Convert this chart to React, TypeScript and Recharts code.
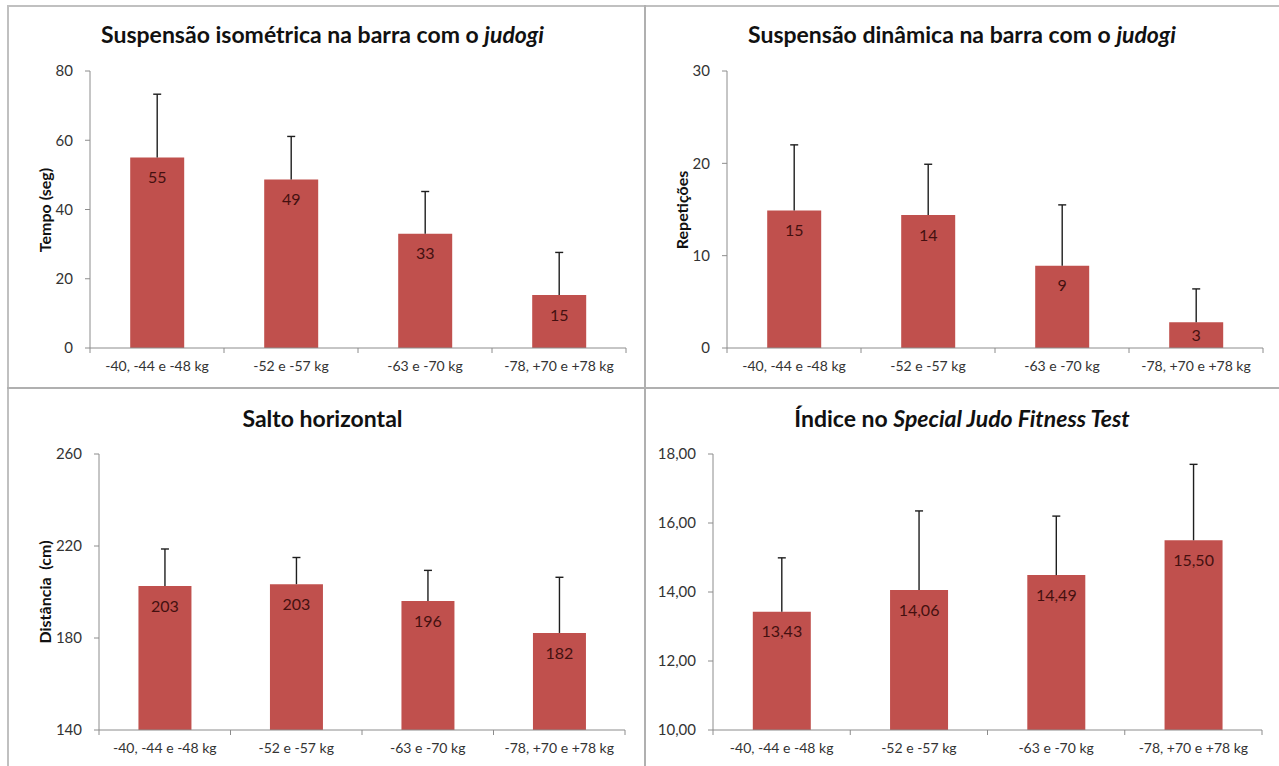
import React from "react";
import { BarChart, Bar, XAxis, YAxis, LabelList } from "recharts";

const CATS = ["-40, -44 e -48 kg", "-52 e -57 kg", "-63 e -70 kg", "-78, +70 e +78 kg"];

const ISO_MEAN = [55, 48.7, 33, 15.3];
const ISO_SD = [18.3, 12.4, 12.2, 12.3];
const ISO_TICKS = [0, 20, 40, 60, 80];

const DIN_MEAN = [14.9, 14.4, 8.9, 2.8];
const DIN_SD = [7.1, 5.5, 6.6, 3.6];
const DIN_TICKS = [0, 10, 20, 30];

const SALTO_MEAN = [202.6, 203.4, 196.1, 182.2];
const SALTO_SD = [16.1, 11.6, 13.3, 24.2];
const SALTO_TICKS = [140, 180, 220, 260];

const SJFT_MEAN = [13.43, 14.06, 14.49, 15.5];
const SJFT_SD = [1.56, 2.29, 1.71, 2.2];
const SJFT_TICKS = [10, 12, 14, 16, 18];

const BAR = "#c0504d";
const AXIS = "#8c8c8c";
const TXT = "#333";
const BORDER = "#c0c0c0";

const intFmt = (v: number) => Math.round(v).toString();
const decFmt = (v: number) => v.toFixed(2).replace(".", ",");

function ErrCap(props: any) {
  const { x, y, width, height } = props;
  const cx = x + width / 2;
  const top = Math.min(y, y + height);
  const bot = Math.max(y, y + height);
  return (
    <g>
      <line x1={cx} y1={top} x2={cx} y2={bot} stroke="#1e1e1e" strokeWidth={1.4} />
      <line x1={cx - 4} y1={top} x2={cx + 4} y2={top} stroke="#1e1e1e" strokeWidth={1.4} />
    </g>
  );
}

function CatTick(props: any) {
  const { x, y, payload, index } = props;
  const half = payload.offset ?? 67;
  return (
    <g>
      {index === 0 && <line x1={x - half} y1={y} x2={x - half} y2={y + 5} stroke={AXIS} />}
      <line x1={x + half} y1={y} x2={x + half} y2={y + 5} stroke={AXIS} />
      <text x={x} y={y + 23} textAnchor="middle" fontSize={14} fill={TXT}>
        {payload.value}
      </text>
    </g>
  );
}

// label sits ~20px under the bar top, or in the middle of a short bar
function ValueLabel(props: any, fmt: (v: number) => string) {
  const { x, y, width, height, value } = props;
  const h = Math.abs(height);
  const cy = y + Math.min(20, h / 2);
  return (
    <text x={x + width / 2} y={cy} dy="0.35em" textAnchor="middle" fontSize={16} fill="#441010">
      {fmt(Number(value))}
    </text>
  );
}

type PanelProps = {
  left: number;
  top: number;
  width: number;
  height: number;
  yWidth: number;
  mTop: number;
  mRight: number;
  mBottom: number;
  mean: number[];
  sd: number[];
  ticks: number[];
  fmt: (v: number) => string;
  gap: string;
  title: React.ReactNode;
  titleY: number;
  yLabel?: string;
  yLabelX?: number;
};

function Panel(p: PanelProps) {
  const data = CATS.map((c, i) => ({ cat: c, v: p.mean[i], e: p.sd[i] }));
  const plotTop = p.top + p.mTop;
  const plotBottom = p.top + p.height - p.mBottom - 30;
  return (
    <>
      <div
        style={{
          position: "absolute",
          left: p.left,
          width: p.width,
          top: p.titleY - 16,
          height: 32,
          lineHeight: "32px",
          textAlign: "center",
          fontSize: 23,
          fontWeight: 700,
          color: "#111",
          whiteSpace: "nowrap",
        }}
      >
        {p.title}
      </div>
      {p.yLabel && (
        <div
          style={{
            position: "absolute",
            left: p.yLabelX,
            top: (plotTop + plotBottom) / 2,
            transform: "translate(-50%, -50%) rotate(-90deg)",
            fontSize: 16,
            fontWeight: 700,
            color: "#111",
            whiteSpace: "pre",
          }}
        >
          {p.yLabel}
        </div>
      )}
      <div style={{ position: "absolute", left: p.left, top: p.top }}>
        <BarChart
          width={p.width}
          height={p.height}
          data={data}
          barCategoryGap={p.gap}
          margin={{ top: p.mTop, right: p.mRight, bottom: p.mBottom, left: 0 }}
        >
          <XAxis
            dataKey="cat"
            interval={0}
            height={30}
            tickLine={false}
            tickSize={0}
            tickMargin={0}
            axisLine={{ stroke: AXIS }}
            tick={(t: any) => <CatTick {...t} />}
          />
          <XAxis xAxisId="err" dataKey="cat" hide />
          <YAxis
            width={p.yWidth}
            domain={[p.ticks[0], p.ticks[p.ticks.length - 1]]}
            ticks={p.ticks}
            interval={0}
            allowDataOverflow
            tickSize={5}
            tickMargin={12}
            tickFormatter={(v: number) => (p.fmt === decFmt ? decFmt(v) : String(v))}
            tick={{ fontSize: 15, fill: TXT }}
            axisLine={{ stroke: AXIS }}
            tickLine={{ stroke: AXIS }}
          />
          <Bar dataKey="v" fill={BAR} isAnimationActive={false}>
            <LabelList dataKey="v" content={(l: any) => ValueLabel(l, p.fmt)} />
          </Bar>
          <Bar
            xAxisId="err"
            dataKey={(d: any) => [d.v, d.v + d.e]}
            shape={(s: any) => <ErrCap {...s} />}
            isAnimationActive={false}
          />
        </BarChart>
      </div>
    </>
  );
}

export default function App() {
  return (
    <div
      style={{
        position: "absolute",
        left: 0,
        top: 0,
        width: 1279,
        height: 766,
        background: "#fff",
        fontFamily: "Lato, 'Open Sans', sans-serif",
        overflow: "hidden",
      }}
    >
      <div style={{ position: "absolute", left: 7, top: 5, width: 1272, height: 2, background: BORDER }} />
      <div style={{ position: "absolute", left: 7, top: 5, width: 2, height: 761, background: BORDER }} />
      <div style={{ position: "absolute", left: 644, top: 5, width: 2, height: 761, background: "#b0b0b0" }} />
      <div style={{ position: "absolute", left: 7, top: 387, width: 1272, height: 2, background: "#b0b0b0" }} />

      <Panel
        left={0}
        top={0}
        width={645}
        height={388}
        yWidth={90}
        mTop={71}
        mRight={19}
        mBottom={10}
        mean={ISO_MEAN}
        sd={ISO_SD}
        ticks={ISO_TICKS}
        fmt={intFmt}
        gap="30%"
        titleY={34}
        title={
          <>
            Suspensão isométrica na barra com o <i>judogi</i>
          </>
        }
        yLabel="Tempo (seg)"
        yLabelX={44}
      />
      <Panel
        left={645}
        top={0}
        width={634}
        height={388}
        yWidth={82}
        mTop={71}
        mRight={16}
        mBottom={10}
        mean={DIN_MEAN}
        sd={DIN_SD}
        ticks={DIN_TICKS}
        fmt={intFmt}
        gap="30%"
        titleY={34}
        title={
          <>
            Suspensão dinâmica na barra com o <i>judogi</i>
          </>
        }
        yLabel="Repetições"
        yLabelX={681}
      />
      <Panel
        left={0}
        top={388}
        width={645}
        height={378}
        yWidth={99}
        mTop={66}
        mRight={20}
        mBottom={6}
        mean={SALTO_MEAN}
        sd={SALTO_SD}
        ticks={SALTO_TICKS}
        fmt={intFmt}
        gap="30%"
        titleY={418}
        title="Salto horizontal"
        yLabel={"Distância  (cm)"}
        yLabelX={44}
      />
      <Panel
        left={645}
        top={388}
        width={634}
        height={378}
        yWidth={68}
        mTop={66}
        mRight={17}
        mBottom={6}
        mean={SJFT_MEAN}
        sd={SJFT_SD}
        ticks={SJFT_TICKS}
        fmt={decFmt}
        gap="29%"
        titleY={418}
        title={
          <>
            Índice no <i>Special Judo Fitness Test</i>
          </>
        }
      />
    </div>
  );
}
